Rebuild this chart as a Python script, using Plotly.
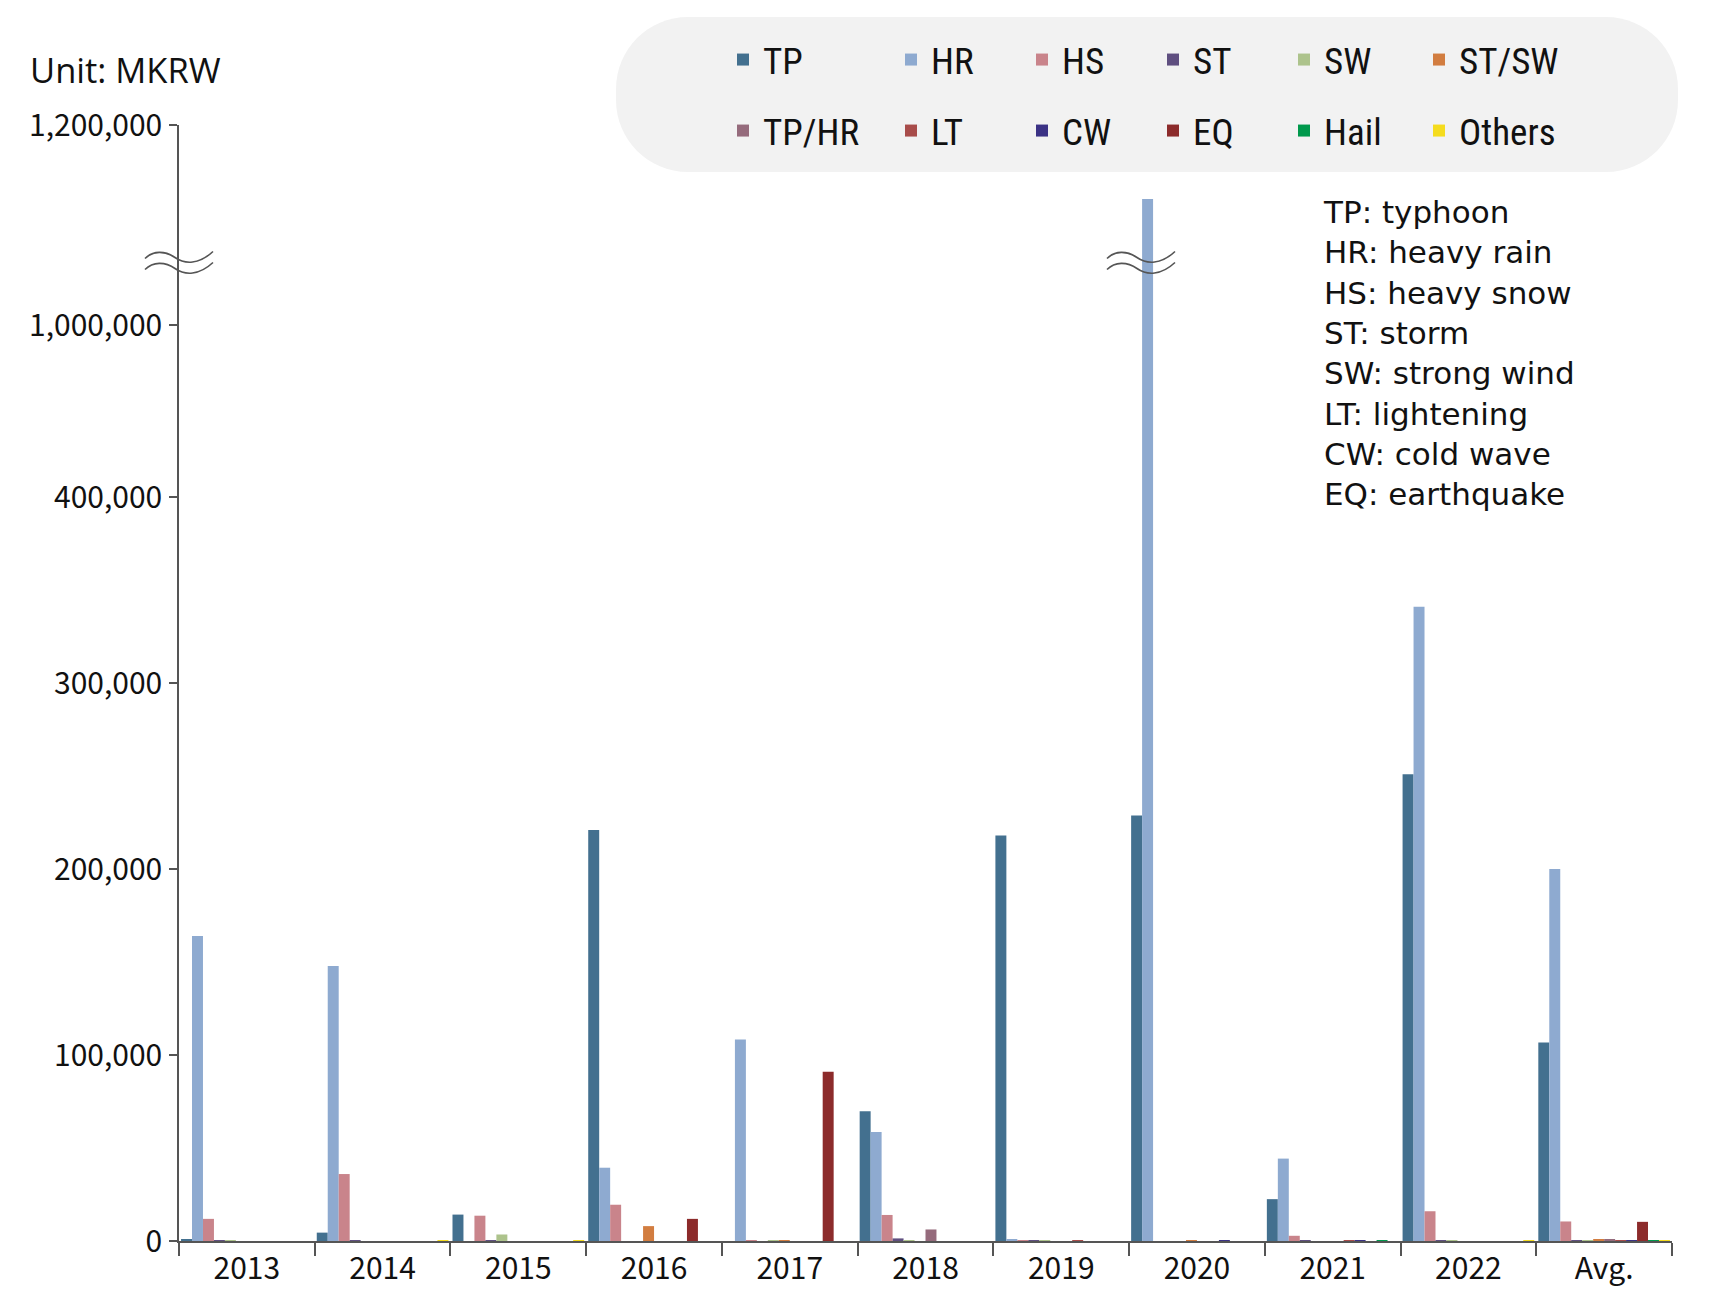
import plotly.graph_objects as go

# ---------------- data (million KRW) ----------------
categories = ["2013", "2014", "2015", "2016", "2017", "2018", "2019", "2020", "2021", "2022", "Avg."]
series_names = ["TP", "HR", "HS", "ST", "SW", "ST/SW", "TP/HR", "LT", "CW", "EQ", "Hail", "Others"]

TP     = [1000, 4500, 14200, 221000, 0, 69800, 218000, 228700, 22500, 251000, 106700]
HR     = [164000, 147800, 0, 39400, 108300, 58600, 1000, 1126000, 44300, 341000, 200000]
HS     = [11900, 36000, 13600, 19500, 400, 14000, 300, 0, 2800, 16000, 10500]
ST     = [500, 300, 500, 0, 0, 1400, 300, 0, 300, 300, 300]
SW     = [300, 0, 3500, 0, 300, 300, 300, 0, 0, 300, 200]
ST_SW  = [0, 0, 0, 8000, 500, 0, 0, 400, 0, 0, 800]
TP_HR  = [0, 0, 0, 0, 0, 6200, 0, 0, 0, 0, 600]
LT     = [0, 0, 0, 0, 0, 0, 400, 0, 300, 0, 100]
CW     = [0, 0, 0, 0, 0, 0, 0, 300, 300, 0, 100]
EQ     = [0, 0, 0, 11900, 91000, 0, 0, 0, 0, 0, 10300]
Hail   = [0, 0, 0, 0, 0, 0, 0, 0, 400, 0, 100]
Others = [0, 300, 300, 0, 0, 0, 0, 0, 0, 300, 100]

series_values = [TP, HR, HS, ST, SW, ST_SW, TP_HR, LT, CW, EQ, Hail, Others]
series_colors = ["#43708f", "#8eaad0", "#c9848b", "#5f4f80", "#adc38c", "#d27d40",
                 "#956b7c", "#a84c4a", "#3b3285", "#8c2b2b", "#00994c", "#f5dc1e"]
# legend block of each series (legend table: 2 rows x 6 columns)
series_legend = ["legend", "legend3", "legend3", "legend3", "legend3", "legend5",
                 "legend2", "legend4", "legend4", "legend4", "legend4", "legend6"]

lower_ticks = [0, 100000, 200000, 300000, 400000]
upper_ticks = [1000000, 1200000]
abbreviations = ["TP: typhoon", "HR: heavy rain", "HS: heavy snow", "ST: storm",
                 "SW: strong wind", "LT: lightening", "CW: cold wave", "EQ: earthquake"]

# ---------------- geometry helpers ----------------
W, H = 1716, 1307
ML, MR, MT, MB = 179, 44, 125, 66
PW, PH = W - ML - MR, H - MT - MB
Y0 = H - MB  # pixel of the zero line


def px(X):
    return (X - ML) / PW


def py(Y):
    return (Y0 - Y) / PH


split_px = 410
split = py(split_px)
low_scale = (Y0 - 497) / 400000.0          # px per unit in lower panel
low_top = (Y0 - split_px) / low_scale
up_scale = (325 - 125) / 200000.0
up_bottom = 1200000 - (split_px - 125) / up_scale

FONT = "Noto Sans CJK KR, Noto Sans, sans-serif"
TEXTFONT = "Open Sans, Noto Sans, sans-serif"
NOTEFONT = "DejaVu Sans, Open Sans, sans-serif"
NARROW = "Liberation Sans Narrow, Arial Narrow, Roboto Condensed, Noto Sans CJK KR, sans-serif"

fig = go.Figure()
for name, vals, col, leg in zip(series_names, series_values, series_colors, series_legend):
    fig.add_trace(go.Bar(
        x=categories, y=vals, name=name,
        marker=dict(color=col, line=dict(width=0)),
        legend=leg, xaxis="x", yaxis="y",
    ))
for name, vals, col in zip(series_names, series_values, series_colors):
    fig.add_trace(go.Bar(
        x=categories, y=vals, name=name, showlegend=False,
        marker=dict(color=col, line=dict(width=0)),
        xaxis="x2", yaxis="y2",
    ))

axis_col = "#555555"
legend_font = dict(family=NARROW, size=37, color="#111111")


def legend_box(xpix, ypix, ew):
    return dict(orientation="h", x=px(xpix), xanchor="left", y=py(ypix), yanchor="middle",
                bgcolor="rgba(0,0,0,0)", font=legend_font, entrywidth=ew,
                entrywidthmode="pixels", itemwidth=30, traceorder="normal")


fig.update_layout(
    width=W, height=H,
    margin=dict(l=ML, r=MR, t=MT, b=MB),
    paper_bgcolor="white", plot_bgcolor="white",
    font=dict(family=FONT, size=30, color="#111111"),
    barmode="group", bargap=0.03, bargroupgap=0,
    xaxis=dict(domain=[0, 1], anchor="y", type="category",
               tickson="boundaries", ticks="outside", ticklen=13, tickwidth=1.5,
               tickcolor=axis_col, showline=True, linecolor=axis_col, linewidth=1.5,
               showgrid=False, tickfont=dict(size=30, family=FONT, color="#111111")),
    xaxis2=dict(matches="x", anchor="y2", visible=False, type="category"),
    yaxis=dict(domain=[0, split], range=[0, low_top], tickvals=lower_ticks,
               tickformat=",", ticks="outside", ticklen=8, tickwidth=1.5, tickcolor=axis_col,
               showline=True, linecolor=axis_col, linewidth=1.5, showgrid=False,
               zeroline=False, ticklabelstandoff=1,
               tickfont=dict(size=30, family=FONT, color="#111111")),
    yaxis2=dict(domain=[split, 1], range=[up_bottom, 1200000], tickvals=upper_ticks,
                tickformat=",", ticks="outside", ticklen=8, tickwidth=1.5, tickcolor=axis_col,
                showline=True, linecolor=axis_col, linewidth=1.5, showgrid=False,
                zeroline=False, ticklabelstandoff=1,
                tickfont=dict(size=30, family=FONT, color="#111111")),
    legend=legend_box(723, 60, 0),
    legend2=legend_box(723, 131, 0),
    legend3=legend_box(891, 60, 86),
    legend4=legend_box(891, 131, 86),
    legend5=legend_box(1419, 60, 0),
    legend6=legend_box(1419, 131, 0),
)

# rounded legend background (pill)
hw, hh, r = 531, 77.5, 72
k = 0.5523 * r
bg_path = (f"M {-hw + r},{-hh} L {hw - r},{-hh} "
           f"C {hw - r + k},{-hh} {hw},{-hh + r - k} {hw},{-hh + r} "
           f"L {hw},{hh - r} "
           f"C {hw},{hh - r + k} {hw - r + k},{hh} {hw - r},{hh} "
           f"L {-hw + r},{hh} "
           f"C {-hw + r - k},{hh} {-hw},{hh - r + k} {-hw},{hh - r} "
           f"L {-hw},{-hh + r} "
           f"C {-hw},{-hh + r - k} {-hw + r - k},{-hh} {-hw + r},{-hh} Z")
fig.add_shape(type="path", xref="paper", yref="paper", xsizemode="pixel", ysizemode="pixel",
              xanchor=px(1147), yanchor=py(94.5), path=bg_path,
              fillcolor="#f2f2f2", line=dict(width=0), layer="below")


# axis-break symbols (two wavy strokes)
def wave(dy):
    return (f"M -34,{-2 + dy} C -26,{6 + dy} -14,{6 + dy} -4,{-1 + dy} "
            f"C 6,{-8 + dy} 20,{-8 + dy} 34,{5 + dy}")


for cx in (px(179), px(1141)):
    for dy in (5.5, -5.5):
        fig.add_shape(type="path", xref="paper", yref="paper", xsizemode="pixel",
                      ysizemode="pixel", xanchor=cx, yanchor=py(262), path=wave(dy),
                      line=dict(color="#555555", width=1.6))

fig.add_annotation(text="Unit: MKRW", xref="paper", yref="paper", x=px(28), y=py(70),
                   xanchor="left", yanchor="middle", showarrow=False,
                   font=dict(family=TEXTFONT, size=34.5, color="#111111"))
fig.add_annotation(text="<br>".join(abbreviations), xref="paper", yref="paper",
                   x=px(1321), y=py(192.5), xanchor="left", yanchor="top",
                   align="left", showarrow=False,
                   font=dict(family=NOTEFONT, size=31, color="#111111"))

fig.write_html("out.html", post_script="document.body.style.margin='0px';",
               config={"displayModeBar": False})
